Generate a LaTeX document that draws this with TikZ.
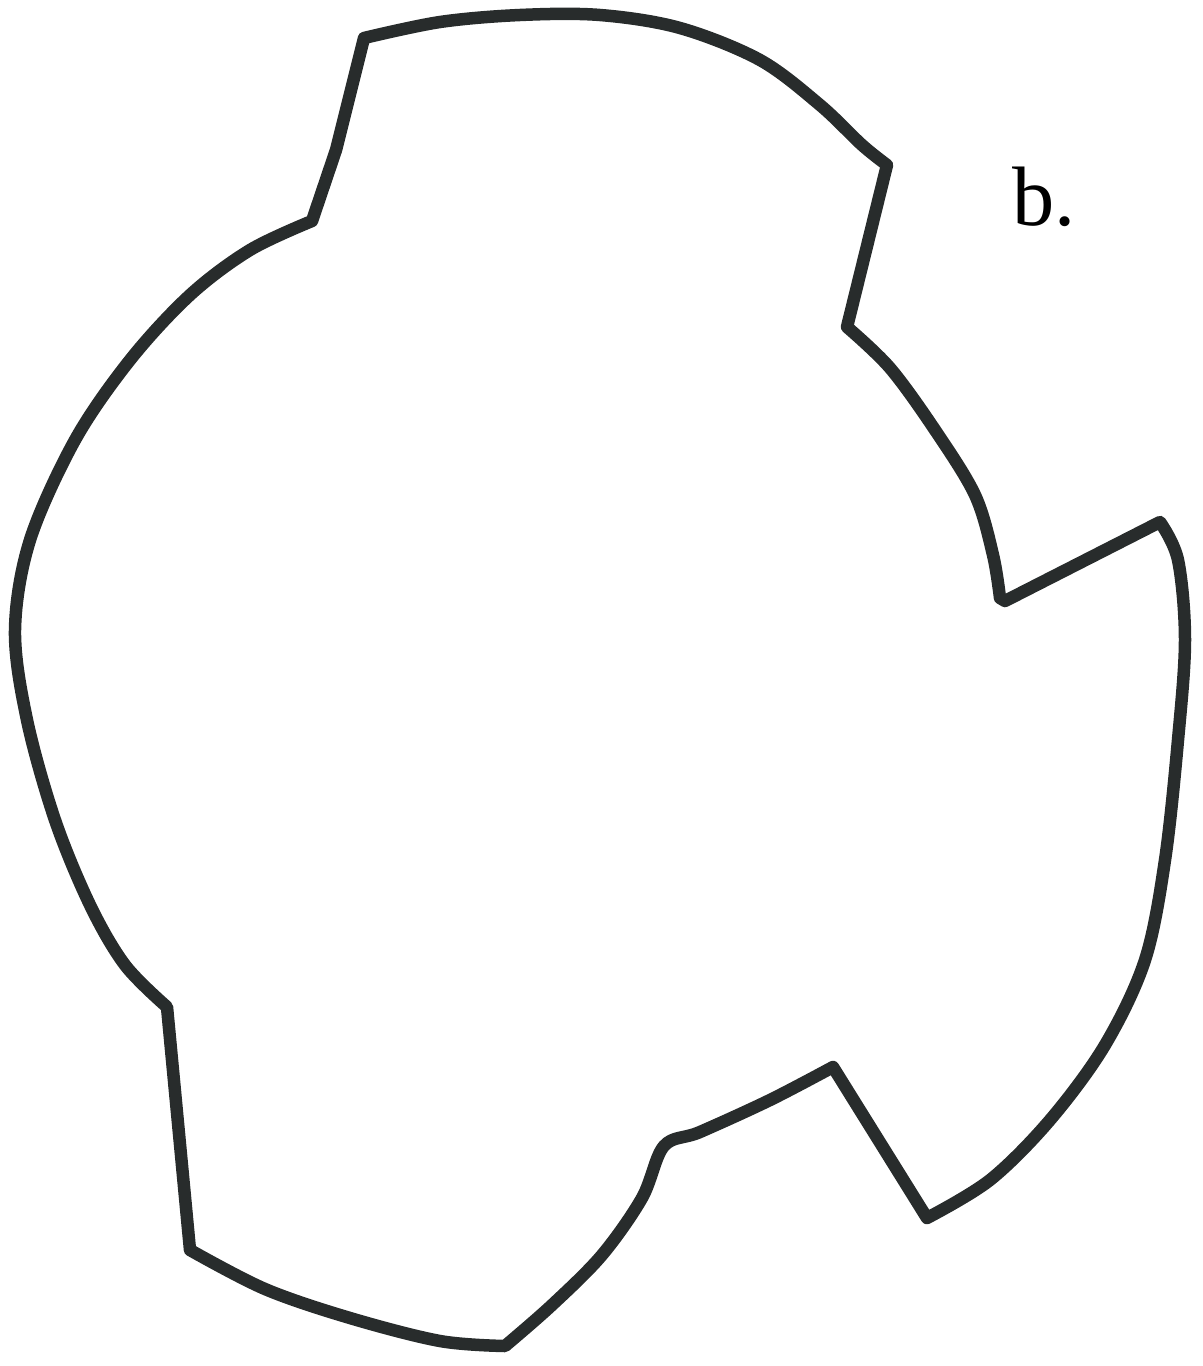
\documentclass[tikz,border=0pt]{standalone}
\usepackage{fontspec}
\setmainfont{Liberation Serif}
\begin{document}
\begin{tikzpicture}[x=0.02cm,y=-0.02cm,
  outline/.style={draw={rgb,255:red,40;green,44;blue,44}, line width=0.25cm, line join=round, line cap=round}]
\useasboundingbox (0,0) rectangle (1203,1366);
\draw[outline]
  plot[smooth,tension=0.55] coordinates {(364,38) (440,22) (520,15) (600,15) (680,28) (760,60) (820,105) (862,145) (887,165)}
  -- (847,327)
  -- plot[smooth,tension=0.55] coordinates {(847,327) (890,368) (935,430) (975,495) (993,555) (1000,598)}
  -- (1005,601) -- (1160,522)
  -- plot[smooth,tension=0.55] coordinates {(1160,522) (1178,560) (1185,640) (1178,740) (1165,860) (1145,960) (1105,1045) (1050,1120) (990,1180) (927,1218)}
  -- (833,1067)
  -- plot[smooth,tension=0.55] coordinates {(833,1067) (770,1100) (700,1132) (664,1146) (642,1198) (602,1255) (552,1305) (505,1346)}
  -- plot[smooth,tension=0.55] coordinates {(505,1346) (440,1341) (350,1318) (265,1289) (190,1250)}
  -- (167,1007)
  -- plot[smooth,tension=0.55] coordinates {(167,1007) (125,965) (90,905) (55,820) (27,720) (15,630) (30,540) (75,440) (130,360) (190,295) (250,250) (312,221)}
  -- (336,150) -- (364,38) -- cycle;
\node[font=\fontsize{48}{52}\selectfont, inner sep=0pt] (lbl) at (1044,197) {b.};
\end{tikzpicture}
\end{document}
